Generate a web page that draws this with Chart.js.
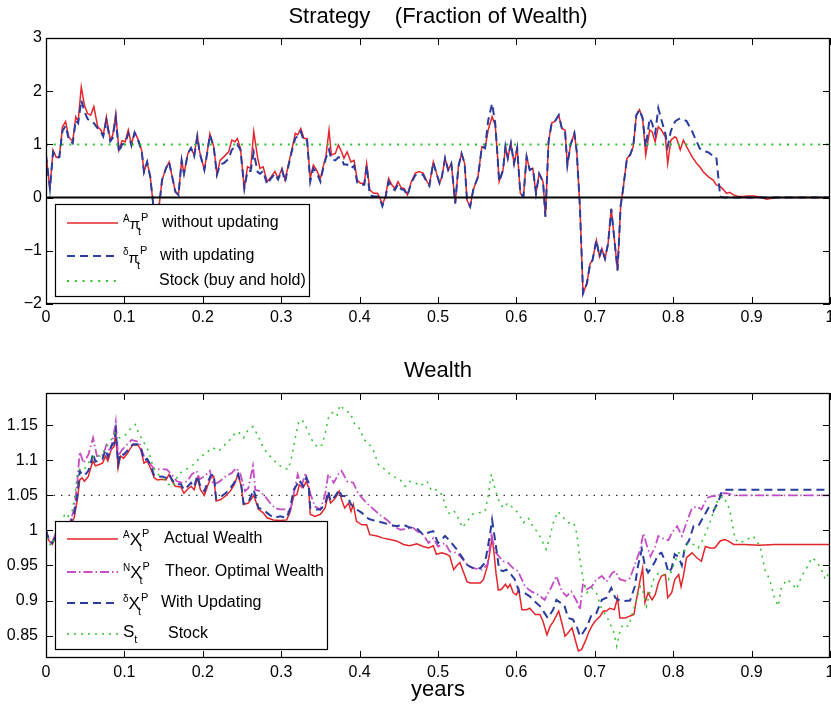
<!DOCTYPE html>
<html>
<head>
<meta charset="utf-8">
<script src="https://cdn.jsdelivr.net/npm/chart.js@4.4.1/dist/chart.umd.min.js"></script>
<style>
html, body { margin: 0; padding: 0; background: #fff; overflow: hidden; }
#wrap { position: relative; width: 831px; height: 713px; overflow: hidden; background: #fff; }
canvas { position: absolute; left: 0; }
#strategyChart { top: 0; }
#wealthChart { top: 345px; }
</style>
</head>
<body>
<div id="wrap">
  <canvas id="strategyChart" width="840" height="345"></canvas>
  <canvas id="wealthChart" width="840" height="368"></canvas>
</div>
<script>
// tick labels
const xTicks = [0, 0.1, 0.2, 0.3, 0.4, 0.5, 0.6, 0.7, 0.8, 0.9, 1];
const piTicks = [-2, -1, 0, 1, 2, 3];
const wealthTicks = [0.85, 0.9, 0.95, 1, 1.05, 1.1, 1.15];

// top panel: strategy (fraction of wealth)
const tStrategy = [0, .005, .009, .013, .017, .021, .025, .029, .034, .038, .041, .045, .049, .053, .057, .061, .066, .070, .073, .077,
  .082, .085, .089, .093, .097, .101, .105, .109, .113, .117, .122, .125, .129, .133, .137, .140, .144, .148, .153, .157,
  .161, .165, .169, .173, .176, .181, .185, .189, .193, .196, .202, .206, .209, .214, .218, .222, .227, .233, .237, .241,
  .244, .248, .253, .257, .261, .265, .270, .273, .277, .282, .287, .292, .296, .301, .305, .309, .313, .318, .321, .325,
  .329, .333, .337, .341, .345, .350, .354, .357, .361, .364, .369, .373, .377, .380, .384, .389, .393, .397, .401, .406,
  .409, .413, .418, .423, .426, .429, .433, .437, .441, .445, .449, .453, .457, .461, .466, .471, .476, .481, .486, .489,
  .494, .498, .502, .505, .509, .513, .517, .522, .526, .530, .534, .537, .541, .545, .551, .556, .560, .564, .569, .573,
  .576, .578, .583, .586, .589, .593, .597, .601, .605, .609, .613, .617, .621, .625, .629, .634, .637, .641, .645, .649,
  .654, .658, .662, .665, .669, .674, .677, .681, .685, .690, .694, .697, .702, .706, .709, .713, .717, .721, .729, .733,
  .736, .741, .745, .749, .753, .757, .761, .765, .770, .773, .777, .781, .785, .790, .793, .797, .802, .804, .809, .813,
  .817, .824, .830, .834, .838, .845, .851, .855, .860, .864, .868, .872, .877, .883, .890, .894, .902, .911, .919, .932,
  .953, .975, 1];
const piWithout = [0.80, 0.17, 0.89, 0.76, 0.76, 1.33, 1.43, 1.14, 1.05, 1.52, 1.43, 2.08, 1.74, 1.58, 1.55, 1.71, 1.33, 1.27, 1.17, 1.52,
  1.08, 1.17, 1.58, 0.89, 1.07, 1.05, 1.27, 1.00, 1.23, 1.11, 0.89, 0.48, 0.67, 0.39, -0.17, -0.35, -0.20, 0.33, 0.55, 0.67,
  0.39, 0.11, 0.05, 0.70, 0.45, 0.83, 0.93, 0.80, 1.17, 0.86, 0.52, 0.89, 1.20, 0.96, 0.43, 0.70, 0.77, 0.86, 1.08, 1.05,
  1.11, 0.93, 0.17, 0.58, 0.55, 1.24, 0.74, 0.55, 0.58, 0.30, 0.39, 0.49, 0.36, 0.55, 0.33, 0.61, 0.86, 1.21, 1.18, 1.30,
  1.11, 1.11, 0.36, 0.61, 0.52, 0.36, 0.61, 0.77, 1.27, 0.80, 0.83, 0.99, 0.86, 0.74, 0.86, 0.67, 0.70, 0.33, 0.27, 0.27,
  0.64, 0.14, 0.08, 0.08, -0.01, -0.14, 0.02, 0.36, 0.24, 0.17, 0.30, 0.19, 0.17, 0.05, 0.30, 0.46, 0.49, 0.46, 0.30, 0.24,
  0.67, 0.46, 0.27, 0.39, 0.74, 0.52, 0.64, -0.11, 0.58, 0.83, 0.64, -0.05, -0.17, 0.15, 0.39, 0.96, 0.93, 1.27, 1.52, 1.36,
  0.77, 0.30, 0.52, 0.96, 0.74, 1.02, 0.64, 0.93, 0.08, 0.02, 0.77, 0.52, 0.55, 0.08, 0.45, 0.30, -0.36, 1.05, 1.40, 1.43,
  1.55, 1.30, 1.27, 0.61, 0.99, 1.21, 0.86, -0.17, -1.80, -1.61, -1.24, -1.18, -0.80, -1.11, -0.96, -1.15, -0.86, -0.21, -1.37, -0.15,
  0.15, 0.74, 0.80, 0.96, 1.55, 1.65, 1.49, 0.80, 1.27, 1.24, 1.05, 1.33, 1.27, 1.14, 0.64, 1.08, 1.14, 1.13, 0.90, 1.08,
  0.96, 0.77, 0.64, 0.58, 0.49, 0.39, 0.33, 0.24, 0.21, 0.15, 0.08, 0.10, 0.05, 0.02, 0.02, 0.03, 0.03, 0.01, -0.03, 0.00,
  0.00, 0.00, 0.00];
const piWith = [0.80, 0.17, 0.85, 0.74, 0.76, 1.25, 1.35, 1.10, 1.02, 1.45, 1.40, 1.83, 1.62, 1.48, 1.43, 1.40, 1.30, 1.24, 1.15, 1.45,
  1.06, 1.12, 1.50, 0.85, 1.00, 1.02, 1.20, 0.98, 1.22, 1.10, 0.88, 0.48, 0.67, 0.39, -0.17, -0.35, -0.20, 0.33, 0.55, 0.67,
  0.39, 0.11, 0.05, 0.70, 0.45, 0.83, 0.93, 0.78, 1.15, 0.84, 0.52, 0.87, 1.18, 0.94, 0.43, 0.62, 0.65, 0.73, 0.90, 0.95,
  1.00, 0.90, 0.17, 0.50, 0.50, 0.85, 0.48, 0.45, 0.50, 0.25, 0.36, 0.45, 0.34, 0.52, 0.30, 0.58, 0.84, 1.12, 1.15, 1.24,
  1.06, 1.08, 0.30, 0.55, 0.48, 0.30, 0.58, 0.74, 0.90, 0.72, 0.70, 0.76, 0.74, 0.62, 0.62, 0.55, 0.60, 0.28, 0.24, 0.24,
  0.60, 0.05, 0.02, 0.02, -0.02, -0.16, 0.00, 0.30, 0.20, 0.14, 0.25, 0.16, 0.14, 0.04, 0.28, 0.42, 0.44, 0.43, 0.28, 0.22,
  0.66, 0.46, 0.27, 0.39, 0.74, 0.52, 0.64, -0.11, 0.58, 0.83, 0.64, -0.05, -0.17, 0.15, 0.39, 0.96, 0.93, 1.45, 1.77, 1.40,
  0.77, 0.30, 0.52, 0.96, 0.74, 1.02, 0.64, 0.93, 0.08, 0.02, 0.77, 0.52, 0.55, 0.08, 0.45, 0.30, -0.36, 1.05, 1.40, 1.43,
  1.55, 1.30, 1.27, 0.61, 0.99, 1.21, 0.86, -0.17, -1.80, -1.61, -1.24, -1.18, -0.80, -1.11, -0.96, -1.15, -0.86, -0.21, -1.37, -0.15,
  0.15, 0.74, 0.80, 0.96, 1.55, 1.65, 1.49, 0.95, 1.49, 1.40, 1.20, 1.68, 1.46, 1.20, 0.96, 1.25, 1.42, 1.45, 1.49, 1.47,
  1.44, 1.25, 1.05, 0.92, 0.88, 0.85, 0.78, 0.76, 0.02, 0, 0, 0, 0, 0, 0, 0, 0, 0, 0, 0,
  0, 0, 0];
const tRef = [0, 1];
const stockFraction = [1, 1];
const zeroLevel = [0, 0];

// bottom panel: wealth
const tActual = [0, .004, .008, .012, .018, .024, .030, .036, .040, .043, .046, .049, .054, .057, .060, .063, .068, .072, .076, .079,
  .083, .087, .089, .092, .095, .099, .104, .107, .111, .117, .121, .125, .129, .134, .138, .142, .148, .153, .157, .161,
  .165, .172, .176, .180, .185, .189, .193, .197, .202, .206, .210, .214, .217, .223, .229, .235, .240, .245, .249, .252,
  .258, .265, .271, .277, .282, .290, .299, .307, .311, .316, .320, .323, .328, .332, .335, .337, .343, .350, .356, .360,
  .363, .369, .374, .377, .381, .386, .389, .392, .396, .403, .409, .413, .422, .430, .439, .447, .456, .464, .473, .481,
  .488, .494, .498, .505, .511, .515, .520, .524, .528, .532, .537, .541, .547, .554, .558, .563, .566, .569, .571, .574,
  .577, .581, .586, .589, .592, .596, .600, .603, .607, .613, .617, .624, .630, .634, .639, .643, .647, .654, .658, .662,
  .666, .671, .675, .679, .683, .688, .692, .696, .700, .707, .711, .715, .719, .725, .729, .732, .739, .745, .750, .753,
  .758, .761, .764, .768, .773, .777, .781, .785, .790, .793, .798, .802, .807, .810, .813, .817, .824, .830, .836, .841,
  .847, .853, .860, .866, .870, .877, .890, .910, .930, 1];
const wealthActual = [1.000, 0.985, 0.980, 0.990, 0.995, 1.000, 1.005, 1.018, 1.044, 1.072, 1.075, 1.070, 1.077, 1.089, 1.099, 1.092, 1.094, 1.096, 1.106, 1.099,
  1.115, 1.120, 1.139, 1.089, 1.106, 1.103, 1.110, 1.116, 1.122, 1.122, 1.115, 1.096, 1.099, 1.087, 1.075, 1.072, 1.073, 1.072, 1.080, 1.070,
  1.063, 1.062, 1.053, 1.058, 1.063, 1.058, 1.075, 1.058, 1.050, 1.063, 1.075, 1.077, 1.042, 1.044, 1.049, 1.056, 1.065, 1.080, 1.063, 1.037,
  1.039, 1.050, 1.030, 1.025, 1.018, 1.015, 1.014, 1.015, 1.025, 1.049, 1.051, 1.065, 1.061, 1.070, 1.061, 1.023, 1.020, 1.023, 1.032, 1.051,
  1.039, 1.046, 1.056, 1.044, 1.032, 1.039, 1.027, 1.037, 1.013, 1.008, 1.008, 0.994, 0.992, 0.989, 0.987, 0.985, 0.980, 0.978, 0.981, 0.977,
  0.975, 0.978, 0.966, 0.968, 0.966, 0.963, 0.944, 0.950, 0.954, 0.942, 0.927, 0.925, 0.925, 0.925, 0.930, 0.949, 0.968, 0.989, 0.973, 0.939,
  0.915, 0.916, 0.923, 0.918, 0.923, 0.911, 0.908, 0.916, 0.887, 0.887, 0.889, 0.880, 0.880, 0.870, 0.851, 0.863, 0.870, 0.885, 0.868, 0.849,
  0.854, 0.861, 0.844, 0.828, 0.830, 0.842, 0.854, 0.863, 0.870, 0.878, 0.885, 0.885, 0.889, 0.887, 0.904, 0.875, 0.875, 0.878, 0.880, 0.901,
  0.930, 0.946, 0.897, 0.911, 0.901, 0.908, 0.925, 0.935, 0.937, 0.904, 0.911, 0.930, 0.937, 0.920, 0.935, 0.961, 0.968, 0.961, 0.956, 0.977,
  0.975, 0.975, 0.985, 0.987, 0.985, 0.980, 0.980, 0.979, 0.980, 0.980];

const tOptimal = [0, .004, .008, .012, .018, .024, .030, .036, .040, .043, .048, .054, .060, .065, .069, .073, .077, .082, .086, .089,
  .092, .097, .103, .109, .116, .120, .124, .128, .137, .145, .154, .160, .167, .173, .180, .186, .192, .196, .203, .209,
  .213, .219, .225, .230, .237, .243, .248, .254, .258, .264, .267, .273, .279, .286, .292, .298, .305, .311, .318, .321,
  .326, .331, .337, .343, .350, .356, .360, .367, .373, .377, .384, .392, .398, .405, .411, .418, .426, .435, .443, .452,
  .460, .468, .473, .481, .488, .494, .500, .509, .515, .524, .530, .539, .547, .556, .563, .568, .574, .583, .589, .596,
  .602, .611, .619, .628, .636, .645, .651, .658, .664, .670, .677, .681, .685, .690, .696, .702, .709, .715, .722, .726,
  .732, .739, .745, .751, .758, .762, .766, .771, .777, .781, .788, .794, .798, .805, .811, .817, .824, .830, .836, .843,
  .849, .856, .862, .868, .877, 1];
const wealthOptimal = [1.000, 0.985, 0.982, 0.995, 1.000, 1.005, 1.010, 1.030, 1.070, 1.112, 1.096, 1.108, 1.132, 1.106, 1.106, 1.108, 1.122, 1.112, 1.134, 1.155,
  1.106, 1.115, 1.122, 1.129, 1.127, 1.122, 1.108, 1.101, 1.089, 1.087, 1.087, 1.080, 1.070, 1.068, 1.070, 1.080, 1.085, 1.073, 1.078, 1.085,
  1.066, 1.068, 1.073, 1.078, 1.082, 1.089, 1.080, 1.056, 1.060, 1.092, 1.058, 1.056, 1.049, 1.039, 1.032, 1.030, 1.030, 1.025, 1.063, 1.080,
  1.063, 1.082, 1.053, 1.034, 1.030, 1.051, 1.080, 1.068, 1.080, 1.085, 1.070, 1.068, 1.053, 1.044, 1.037, 1.030, 1.022, 1.015, 1.006, 1.001,
  1.002, 1.004, 0.999, 0.994, 0.982, 0.989, 0.977, 0.982, 0.970, 0.968, 0.961, 0.949, 0.946, 0.944, 0.951, 0.992, 0.968, 0.956, 0.954, 0.946,
  0.942, 0.920, 0.913, 0.908, 0.901, 0.920, 0.935, 0.913, 0.906, 0.913, 0.899, 0.887, 0.925, 0.916, 0.920, 0.930, 0.935, 0.927, 0.939, 0.942,
  0.930, 0.928, 0.932, 0.951, 0.973, 0.996, 0.980, 0.963, 0.977, 0.992, 0.988, 0.986, 0.996, 1.006, 0.992, 1.011, 1.032, 1.034, 1.030, 1.046,
  1.049, 1.049, 1.053, 1.053, 1.050, 1.050];

const tUpdating = [0, .004, .008, .012, .018, .024, .030, .036, .040, .043, .046, .049, .054, .057, .060, .063, .068, .072, .076, .079,
  .083, .087, .089, .092, .095, .099, .104, .107, .111, .117, .121, .125, .129, .134, .138, .142, .148, .153, .157, .161,
  .165, .172, .176, .180, .185, .189, .193, .197, .202, .206, .210, .214, .217, .223, .229, .235, .240, .245, .249, .252,
  .258, .265, .271, .277, .282, .290, .299, .307, .311, .316, .320, .323, .328, .332, .335, .337, .343, .350, .356, .360,
  .363, .369, .374, .377, .381, .386, .389, .392, .396, .403, .409, .413, .422, .430, .439, .447, .456, .464, .473, .481,
  .488, .494, .500, .509, .515, .524, .530, .537, .545, .554, .560, .566, .569, .574, .578, .583, .587, .592, .598, .604,
  .610, .617, .623, .630, .636, .640, .647, .651, .656, .661, .666, .672, .677, .681, .685, .690, .696, .702, .709, .715,
  .721, .726, .730, .736, .745, .751, .755, .760, .764, .768, .773, .777, .781, .785, .790, .794, .798, .802, .807, .811,
  .815, .820, .826, .832, .839, .845, .851, .858, .862, .868, .900, 1];
const wealthUpdating = [1.000, 0.985, 0.982, 0.992, 0.998, 1.003, 1.008, 1.025, 1.050, 1.085, 1.080, 1.078, 1.085, 1.095, 1.110, 1.098, 1.100, 1.102, 1.115, 1.105,
  1.120, 1.125, 1.142, 1.095, 1.110, 1.108, 1.114, 1.118, 1.123, 1.123, 1.118, 1.100, 1.102, 1.092, 1.078, 1.076, 1.077, 1.075, 1.080, 1.072,
  1.066, 1.066, 1.058, 1.062, 1.068, 1.062, 1.078, 1.062, 1.056, 1.068, 1.078, 1.080, 1.045, 1.048, 1.053, 1.060, 1.068, 1.080, 1.065, 1.038,
  1.040, 1.058, 1.032, 1.030, 1.025, 1.018, 1.020, 1.018, 1.030, 1.058, 1.065, 1.072, 1.063, 1.075, 1.068, 1.032, 1.030, 1.030, 1.037, 1.056,
  1.042, 1.049, 1.058, 1.049, 1.049, 1.045, 1.037, 1.034, 1.030, 1.025, 1.018, 1.016, 1.013, 1.011, 1.008, 1.006, 1.008, 1.004, 1.003, 0.994,
  0.997, 0.999, 0.982, 0.992, 0.985, 0.973, 0.963, 0.951, 0.946, 0.946, 0.954, 0.992, 1.015, 0.977, 0.944, 0.942, 0.944, 0.939, 0.930, 0.911,
  0.911, 0.906, 0.899, 0.892, 0.882, 0.875, 0.887, 0.901, 0.897, 0.894, 0.875, 0.873, 0.863, 0.849, 0.854, 0.863, 0.880, 0.882, 0.901, 0.904,
  0.918, 0.904, 0.901, 0.899, 0.900, 0.920, 0.949, 0.973, 0.949, 0.940, 0.948, 0.956, 0.966, 0.968, 0.956, 0.940, 0.946, 0.966, 0.962, 0.950,
  0.977, 0.985, 1.006, 1.006, 1.020, 1.032, 1.027, 1.042, 1.056, 1.058, 1.058, 1.058];

const tStock = [0, .003, .007, .011, .015, .020, .024, .028, .033, .037, .040, .046, .050, .056, .063, .069, .075, .082, .088, .094,
  .101, .107, .114, .118, .124, .131, .137, .143, .150, .156, .162, .169, .175, .182, .188, .194, .201, .207, .213, .220,
  .226, .233, .239, .245, .252, .258, .264, .271, .277, .284, .290, .296, .303, .309, .314, .318, .322, .326, .330, .335,
  .341, .347, .352, .356, .360, .365, .371, .375, .382, .388, .394, .401, .405, .411, .418, .424, .430, .437, .443, .452,
  .458, .464, .471, .477, .486, .492, .498, .505, .511, .515, .521, .527, .531, .537, .544, .560, .564, .568, .573, .577,
  .583, .589, .596, .602, .609, .615, .622, .628, .632, .638, .643, .647, .653, .660, .666, .673, .677, .681, .686, .690,
  .696, .702, .709, .715, .719, .724, .728, .732, .736, .743, .747, .753, .758, .762, .766, .770, .775, .781, .788, .794,
  .800, .807, .813, .819, .826, .832, .838, .845, .851, .857, .864, .868, .872, .879, .885, .894, .902, .911, .917, .923,
  .930, .934, .938, .945, .951, .957, .964, .970, .977, .983, .989, .994, 1];
const wealthStock = [1.000, 0.982, 0.978, 0.990, 0.995, 1.009, 1.024, 1.020, 1.026, 1.050, 1.082, 1.091, 1.089, 1.099, 1.108, 1.106, 1.115, 1.127, 1.139, 1.132,
  1.136, 1.144, 1.151, 1.139, 1.127, 1.113, 1.089, 1.080, 1.073, 1.066, 1.063, 1.080, 1.085, 1.089, 1.094, 1.101, 1.108, 1.113, 1.118, 1.113,
  1.120, 1.127, 1.136, 1.141, 1.132, 1.144, 1.148, 1.134, 1.118, 1.108, 1.101, 1.094, 1.089, 1.087, 1.108, 1.132, 1.153, 1.158, 1.152, 1.139,
  1.125, 1.118, 1.122, 1.137, 1.160, 1.168, 1.163, 1.179, 1.170, 1.168, 1.151, 1.144, 1.130, 1.125, 1.113, 1.094, 1.089, 1.082, 1.077, 1.072,
  1.063, 1.070, 1.068, 1.063, 1.070, 1.056, 1.058, 1.051, 1.030, 1.023, 1.027, 1.015, 1.004, 1.013, 1.023, 1.027, 1.049, 1.080, 1.058, 1.044,
  1.032, 1.039, 1.032, 1.025, 1.011, 1.018, 1.004, 0.996, 0.987, 0.973, 0.992, 1.011, 1.027, 1.018, 1.011, 1.011, 0.996, 0.958, 0.925, 0.911,
  0.918, 0.911, 0.887, 0.878, 0.868, 0.856, 0.835, 0.856, 0.866, 0.863, 0.878, 0.901, 0.920, 0.911, 0.892, 0.911, 0.930, 0.939, 0.937, 0.930,
  0.949, 0.968, 0.968, 0.982, 0.980, 0.975, 0.987, 1.006, 1.025, 1.044, 1.049, 1.039, 1.030, 0.987, 0.982, 0.987, 0.992, 0.977, 0.944, 0.930,
  0.901, 0.892, 0.918, 0.930, 0.925, 0.916, 0.935, 0.946, 0.961, 0.956, 0.944, 0.930, 0.942];
const optimalLevel = [1.05, 1.05];

const FONT = '"Liberation Sans", Arial, Helvetica, sans-serif';
const RED = '#e4262b', BLUE = '#2b3c9f', MAGENTA = '#c54cc5', GREEN = '#2bc42b';

const pts = (xs, ys) => xs.map((x, i) => ({ x: x, y: ys[i] }));
const fmt = v => String(+(+v).toFixed(3)).replace('-', '\u2212');

function series(xs, ys, color, dash, width, order) {
    return { data: pts(xs, ys), borderColor: color, borderDash: dash, borderWidth: width,
        pointRadius: 0, fill: false, tension: 0, order: order };
}

function scales(yMin, yMax, yTicks, xHeight, xPad, yPad) {
    return {
        x: {
            type: 'linear', min: 0, max: 1,
            afterBuildTicks: s => { s.ticks = xTicks.map(v => ({ value: v })); },
            afterFit: s => { s.height = xHeight; },
            ticks: { color: '#000', font: { family: FONT, size: 16 }, padding: xPad, maxRotation: 0, autoSkip: false, callback: fmt },
            grid: { display: false, drawTicks: false },
            border: { display: false }
        },
        y: {
            type: 'linear', min: yMin, max: yMax,
            afterBuildTicks: s => { s.ticks = yTicks.map(v => ({ value: v })); },
            afterFit: s => { s.width = 46; },
            ticks: { color: '#000', font: { family: FONT, size: 16 }, padding: yPad, autoSkip: false, callback: fmt },
            grid: { display: false, drawTicks: false },
            border: { display: false }
        }
    };
}

// matlab style box with inward ticks, titles and the legend box
function decor(cfg) {
    return {
        id: 'decor',
        afterDraw(chart) {
            const { ctx, chartArea: a, scales: sc } = chart;
            ctx.save();
            ctx.strokeStyle = '#000';
            ctx.lineWidth = 1;
            ctx.beginPath();
            sc.x.ticks.forEach(t => {
                const px = Math.round(sc.x.getPixelForValue(t.value)) + 0.5;
                ctx.moveTo(px, a.bottom); ctx.lineTo(px, a.bottom - 7);
                ctx.moveTo(px, a.top); ctx.lineTo(px, a.top + 7);
            });
            sc.y.ticks.forEach(t => {
                const py = Math.round(sc.y.getPixelForValue(t.value)) + 0.5;
                ctx.moveTo(a.left, py); ctx.lineTo(a.left + 7, py);
                ctx.moveTo(a.right, py); ctx.lineTo(a.right - 7, py);
            });
            ctx.stroke();
            ctx.lineWidth = 1.3;
            ctx.strokeRect(a.left + 0.5, a.top + 0.5, a.right - a.left - 1, a.bottom - a.top - 1);

            ctx.fillStyle = '#000';
            ctx.textAlign = 'center';
            ctx.textBaseline = 'middle';
            ctx.font = '22px ' + FONT;
            const cx = (a.left + a.right) / 2;
            ctx.fillText(cfg.title, cx, cfg.titleY);
            if (cfg.xlabel) ctx.fillText(cfg.xlabel, cx, cfg.xlabelY);

            // legend
            const lg = cfg.legend;
            ctx.fillStyle = '#fff';
            ctx.fillRect(lg.x, lg.y, lg.w, lg.h);
            ctx.lineWidth = 1.2;
            ctx.strokeStyle = '#000';
            ctx.strokeRect(lg.x + 0.5, lg.y + 0.5, lg.w, lg.h);
            lg.rows.forEach(r => {
                ctx.beginPath();
                ctx.setLineDash(r.dash);
                ctx.strokeStyle = r.color;
                ctx.lineWidth = r.width;
                ctx.moveTo(67, r.y); ctx.lineTo(118, r.y);
                ctx.stroke();
                ctx.setLineDash([]);
                ctx.fillStyle = '#000';
                ctx.textAlign = 'left';
                ctx.textBaseline = 'alphabetic';
                let x = 123;
                if (r.sup) {
                    ctx.font = '10px ' + FONT;
                    ctx.fillText(r.sup, x, r.y - 1);
                    x += ctx.measureText(r.sup).width;
                }
                ctx.font = r.baseSize + 'px ' + FONT;
                ctx.fillText(r.base, x, r.y + r.baseDy);
                x += ctx.measureText(r.base).width;
                ctx.font = '11px ' + FONT;
                if (r.supR) ctx.fillText(r.supR, x + 1, r.y - 2);
                if (r.sub) ctx.fillText(r.sub, x - (r.supR ? 2 : 0), r.y + r.baseDy + 6);
                ctx.font = '16px ' + FONT;
                ctx.textBaseline = 'middle';
                ctx.fillText(r.label, r.labelX, r.y - 0.5);
            });
            ctx.restore();
        }
    };
}

new Chart(document.getElementById('strategyChart'), {
    type: 'line',
    data: {
        datasets: [
            series(tRef, zeroLevel, '#000', [], 2, 0),
            series(tRef, stockFraction, GREEN, [2, 5.8], 2, 1),
            series(tStrategy, piWith, BLUE, [8, 5], 2, 2),
            series(tStrategy, piWithout, RED, [], 1.5, 3)
        ]
    },
    options: {
        responsive: false, animation: false, events: [],
        layout: { padding: { left: 0, right: 10, top: 38, bottom: 0 } },
        plugins: { legend: { display: false }, tooltip: { enabled: false } },
        scales: scales(-2, 3, piTicks, 41, 4, 4)
    },
    plugins: [decor({
        title: 'Strategy    (Fraction of Wealth)', titleY: 17,
        legend: { x: 55, y: 204, w: 254, h: 92, rows: [
            { color: RED, dash: [], width: 1.5, y: 223, sup: 'A', base: '\u03c0', baseSize: 15, baseDy: 6, supR: 'P', sub: 't', label: 'without updating', labelX: 162 },
            { color: BLUE, dash: [8, 5], width: 2, y: 256, sup: '\u03b4', base: '\u03c0', baseSize: 15, baseDy: 7, supR: 'P', sub: 't', label: 'with updating', labelX: 160 },
            { color: GREEN, dash: [2, 5.8], width: 2, y: 281, base: '', baseSize: 15, baseDy: 0, label: 'Stock (buy and hold)', labelX: 159 }
        ] }
    })]
});

new Chart(document.getElementById('wealthChart'), {
    type: 'line',
    data: {
        datasets: [
            series(tStock, wealthStock, GREEN, [2, 5], 1.5, 1),
            series(tUpdating, wealthUpdating, BLUE, [8, 5], 2, 2),
            series(tOptimal, wealthOptimal, MAGENTA, [9, 3, 1.5, 3], 1.8, 3),
            series(tActual, wealthActual, RED, [], 1.5, 4),
            series(tRef, optimalLevel, '#333', [1.5, 6], 1.2, 5)
        ]
    },
    options: {
        responsive: false, animation: false, events: [],
        layout: { padding: { left: 0, right: 10, top: 48, bottom: 0 } },
        plugins: { legend: { display: false }, tooltip: { enabled: false } },
        scales: scales(0.818, 1.196, wealthTicks, 55, 5, 8)
    },
    plugins: [decor({
        title: 'Wealth', titleY: 26, xlabel: 'years', xlabelY: 345,
        legend: { x: 55, y: 176, w: 272, h: 128, rows: [
            { color: RED, dash: [], width: 1.5, y: 194, sup: 'A', base: 'X', baseSize: 17, baseDy: 6, supR: 'P', sub: 't', label: 'Actual Wealth', labelX: 164 },
            { color: MAGENTA, dash: [9, 3, 1.5, 3], width: 1.8, y: 227, sup: 'N', base: 'X', baseSize: 17, baseDy: 6, supR: 'P', sub: 't', label: 'Theor. Optimal Wealth', labelX: 165 },
            { color: BLUE, dash: [8, 5], width: 2, y: 258, sup: '\u03b4', base: 'X', baseSize: 17, baseDy: 6, supR: 'P', sub: 't', label: 'With Updating', labelX: 161 },
            { color: GREEN, dash: [2, 5], width: 1.5, y: 289, base: 'S', baseSize: 17, baseDy: 3, sub: 't', label: 'Stock', labelX: 168 }
        ] }
    })]
});
</script>
</body>
</html>
